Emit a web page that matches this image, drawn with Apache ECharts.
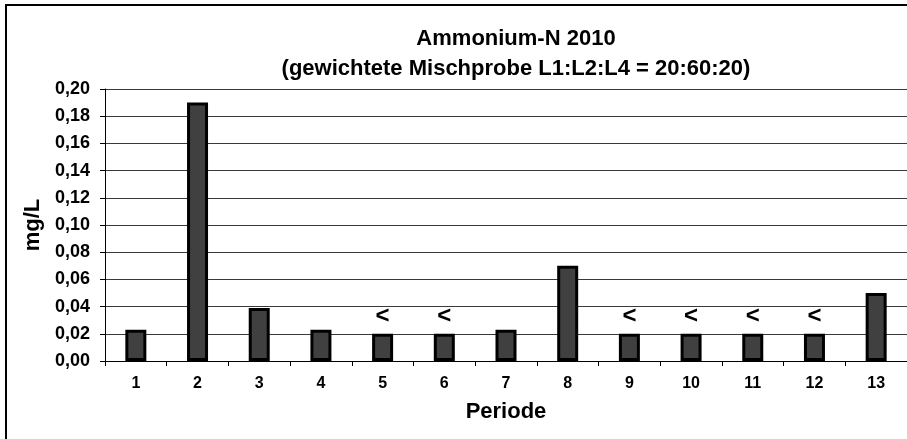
<!DOCTYPE html>
<html>
<head>
<meta charset="utf-8">
<script src="https://cdn.jsdelivr.net/npm/echarts@6/dist/echarts.min.js"></script>
<style>
  html, body { margin: 0; padding: 0; background: #fff; }
  #chart { width: 907px; height: 439px; }
</style>
</head>
<body>
<div id="chart"></div>
<script>
// Periods and measured ammonium-N (mg/L)
const periods = ['1', '2', '3', '4', '5', '6', '7', '8', '9', '10', '11', '12', '13'];
const values = [0.023, 0.19, 0.039, 0.023, 0.02, 0.02, 0.023, 0.07, 0.02, 0.02, 0.02, 0.02, 0.05];
// true = below detection limit, marked with "<"
const belowLimit = [false, false, false, false, true, true, false, false, true, true, true, true, false];
const yTicks = ['0,00', '0,02', '0,04', '0,06', '0,08', '0,10', '0,12', '0,14', '0,16', '0,18', '0,20'];

const font = 'Liberation Sans, Arial, sans-serif';

const chart = echarts.init(document.getElementById('chart'));

const barData = values.map((v, i) => ({
  value: v,
  label: {
    show: belowLimit[i],
    formatter: '<',
    position: 'top',
    distance: 5,
    fontSize: 24,
    fontWeight: 'bold',
    fontFamily: font,
    color: '#000'
  }
}));

chart.setOption({
  animation: false,
  backgroundColor: '#fff',
  title: {
    text: 'Ammonium-N 2010\n(gewichtete Mischprobe L1:L2:L4 = 20:60:20)',
    left: 511,
    top: 19,
    textAlign: 'center',
    textStyle: {
      fontFamily: font,
      fontSize: 22,
      fontWeight: 'bold',
      lineHeight: 30,
      color: '#000'
    }
  },
  graphic: [{
    type: 'rect',
    shape: { x: 6, y: 5, width: 1000, height: 500 },
    style: { fill: 'none', stroke: '#000', lineWidth: 2 },
    silent: true
  }],
  grid: { left: 105, top: 89, width: 805, height: 272 },
  xAxis: {
    type: 'category',
    data: periods,
    name: 'Periode',
    nameLocation: 'middle',
    nameGap: 40,
    nameTextStyle: { fontFamily: font, fontSize: 22, fontWeight: 'bold', color: '#000' },
    axisLine: { lineStyle: { color: '#000', width: 1 } },
    axisTick: { show: true, length: 5, lineStyle: { color: '#000' } },
    axisLabel: { margin: 15, fontFamily: font, fontSize: 16, fontWeight: 'bold', color: '#000' }
  },
  yAxis: {
    type: 'value',
    min: 0,
    max: 0.2,
    interval: 0.02,
    name: 'mg/L',
    nameLocation: 'middle',
    nameRotate: 90,
    nameGap: 61,
    nameTextStyle: { fontFamily: font, fontSize: 22, fontWeight: 'bold', color: '#000' },
    axisLine: { show: true, lineStyle: { color: '#000', width: 1 } },
    axisTick: { show: true, length: 5, lineStyle: { color: '#000' } },
    axisLabel: {
      margin: 15,
      fontFamily: font,
      fontSize: 18,
      fontWeight: 'bold',
      color: '#000',
      formatter: (v) => yTicks[Math.round(v / 0.02)]
    },
    splitLine: { lineStyle: { color: '#3a3a3a', width: 1 } }
  },
  series: [{
    type: 'bar',
    data: barData,
    barWidth: 21,
    itemStyle: { color: '#404040', borderColor: '#000', borderWidth: 3 }
  }]
});
</script>
</body>
</html>
